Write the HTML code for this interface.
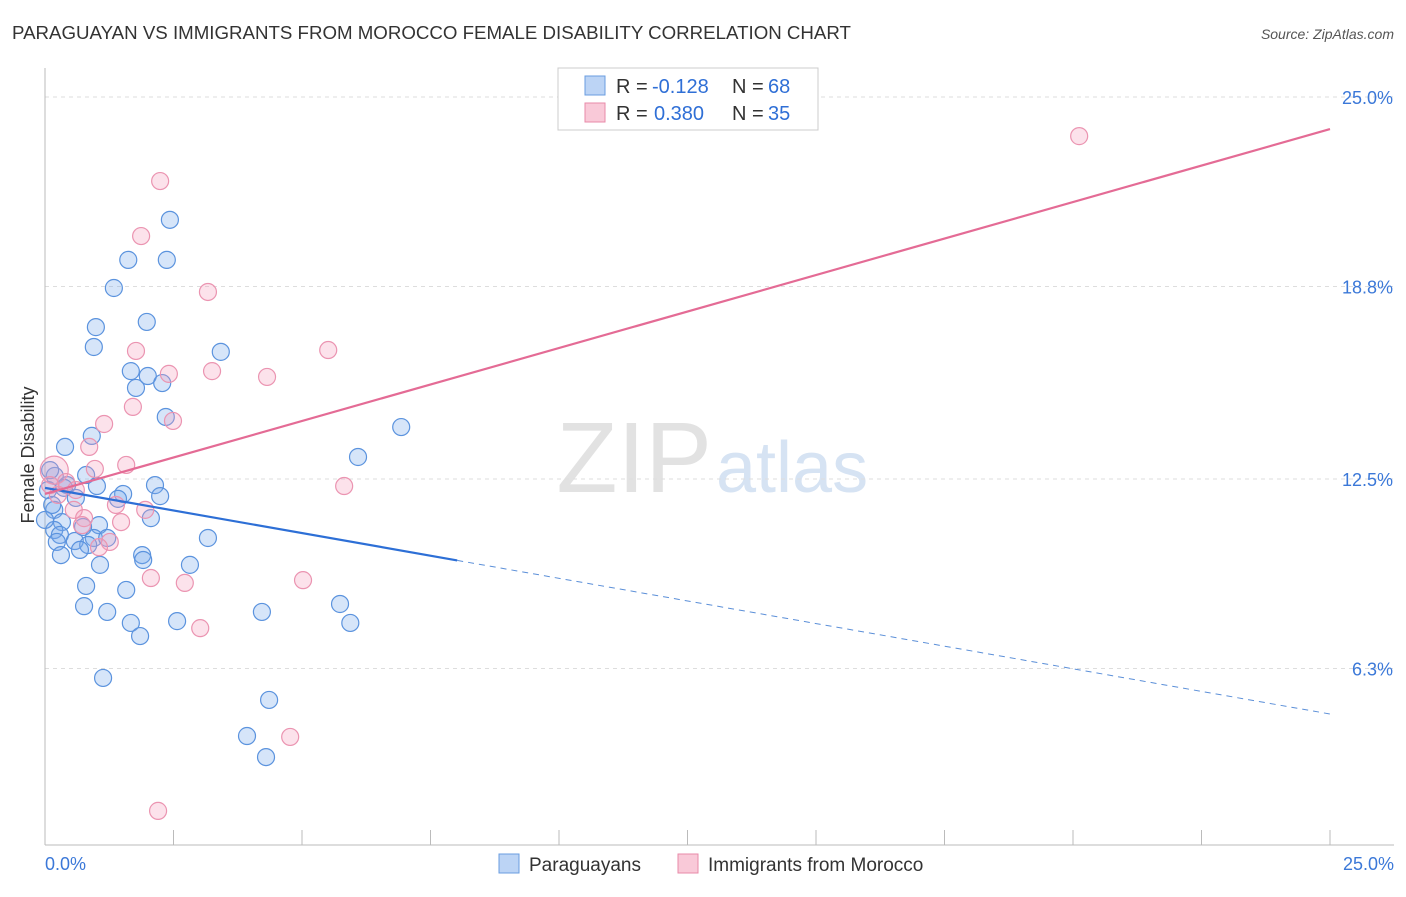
<!DOCTYPE html>
<html><head><meta charset="utf-8"><style>
body{margin:0;background:#fff;font-family:"Liberation Sans",sans-serif}
svg text{font-family:"Liberation Sans",sans-serif}
</style></head><body>
<svg id="c" width="1406" height="892">
<text x="12" y="39" font-size="18.7" fill="#333">PARAGUAYAN VS IMMIGRANTS FROM MOROCCO FEMALE DISABILITY CORRELATION CHART</text>
<text x="1394" y="39" font-size="14" fill="#555" text-anchor="end" font-style="italic">Source: ZipAtlas.com</text>
<text x="712" y="492" font-size="100" fill="#e2e2e2" text-anchor="end" font-family="Liberation Serif">ZIP</text>
<text x="716" y="492" font-size="72" fill="#d6e3f3">atlas</text>
<text transform="translate(34,455) rotate(-90)" font-size="18" fill="#333" text-anchor="middle">Female Disability</text>
<g id="grid"></g><g id="pts"></g><g id="lines"></g>
<rect x="558" y="68" width="260" height="62" fill="#fff" stroke="#ccc"/>
<rect x="585" y="76" width="20" height="19" fill="#bcd4f5" stroke="#6a9de0"/>
<rect x="585" y="103" width="20" height="19" fill="#f9c9d8" stroke="#e88aa8"/>
<g font-size="20">
<text x="616" y="93" fill="#333">R =</text><text x="652" y="93" fill="#2f6fd6">-0.128</text>
<text x="732" y="93" fill="#333">N =</text><text x="768" y="93" fill="#2f6fd6">68</text></g>
<g font-size="20">
<text x="616" y="120" fill="#333">R =</text><text x="654" y="120" fill="#2f6fd6">0.380</text>
<text x="732" y="120" fill="#333">N =</text><text x="768" y="120" fill="#2f6fd6">35</text></g>
<text x="45" y="870" font-size="18" fill="#3b78d8">0.0%</text>
<text x="1394" y="870" font-size="18" fill="#3b78d8" text-anchor="end">25.0%</text>
<rect x="499" y="854" width="20" height="19" fill="#bcd4f5" stroke="#6a9de0"/>
<text x="529" y="871" font-size="19" fill="#333">Paraguayans</text>
<rect x="678" y="854" width="20" height="19" fill="#f9c9d8" stroke="#e88aa8"/>
<text x="708" y="871" font-size="19" fill="#333">Immigrants from Morocco</text>
</svg>
<script>
const yTicks=[25.0,18.8,12.5,6.3];
const yTickLabels=["25.0%","18.8%","12.5%","6.3%"];
const blueX=[2.43,1.62,2.37,1.34,0.99,1.98,0.95,3.42,1.67,2.00,2.28,1.77,2.35,6.93,0.91,0.39,6.09,0.80,0.19,0.43,1.01,2.14,1.52,2.24,0.60,1.42,0.18,2.06,0.33,1.05,0.74,0.18,0.29,0.95,3.17,0.58,0.23,0.84,1.21,0.68,1.89,1.91,0.31,2.82,1.07,0.80,1.58,5.74,0.76,1.21,4.22,2.57,1.67,5.94,1.85,1.13,4.36,3.93,4.30,0.10,0.06,0.14,0.37,0.00];
const blueY=[20.98,19.67,19.67,18.75,17.47,17.64,16.82,16.66,16.03,15.87,15.64,15.48,14.53,14.20,13.91,13.55,13.22,12.63,12.60,12.30,12.27,12.30,12.01,11.94,11.88,11.85,11.49,11.22,11.09,10.99,10.93,10.83,10.67,10.57,10.57,10.47,10.44,10.34,10.57,10.18,10.01,9.85,10.01,9.69,9.69,9.00,8.87,8.41,8.34,8.15,8.15,7.85,7.79,7.79,7.36,5.99,5.27,4.09,3.40,12.79,12.14,11.65,12.21,11.16];
const pinkX=[20.12,2.24,1.87,3.17,1.77,5.51,2.41,3.25,4.32,1.71,2.49,1.15,0.86,1.58,0.97,0.18,0.41,0.25,0.60,1.38,1.95,0.56,0.76,1.48,0.72,1.26,1.05,2.06,2.72,5.02,5.82,3.02,4.77,2.20,0.10];
const pinkY=[23.72,22.25,20.45,18.62,16.69,16.72,15.94,16.03,15.84,14.86,14.40,14.30,13.55,12.96,12.83,12.79,12.40,11.98,12.14,11.65,11.49,11.49,11.22,11.09,10.99,10.44,10.27,9.26,9.10,9.19,12.27,7.62,4.06,1.64,12.30];
const blueLine=[12.21,4.81], blueSolidEnd=8.02, pinkLine=[12.01,23.95];
const X=v=>45+v/25*1285, Y=v=>861-v*30.56;
const NS="http://www.w3.org/2000/svg";
function mk(p,t,a){const e=document.createElementNS(NS,t);for(const k in a)e.setAttribute(k,a[k]);p.appendChild(e);return e;}
const g=document.getElementById('grid');
yTicks.forEach((t,i)=>{
 const l=mk(g,'line',{x1:45,x2:1394,y1:Y(t),y2:Y(t),stroke:'#ddd','stroke-dasharray':'4,4'});
 
 
 const tx=mk(g,'text',{x:1393,y:Y(t)+7,'font-size':18,fill:'#3b78d8','text-anchor':'end'});
 tx.textContent=yTickLabels[i];
 
 
});
const ax=mk(g,'line',{x1:45,x2:45,y1:68,y2:845,stroke:'#bbb'});


const bx=mk(g,'line',{x1:45,x2:1394,y1:845,y2:845,stroke:'#bbb'});


for(let i=0;i<=10;i++){const t=mk(g,'line',{x1:X(i*2.5),x2:X(i*2.5),y1:830,y2:845,stroke:'#bbb'});
 
 }
const p=document.getElementById('pts');
blueX.forEach((x,i)=>{const c=mk(p,'circle',{cx:X(x),cy:Y(blueY[i]),r:8.5,fill:'rgba(120,170,235,0.3)',stroke:'#5b93de','stroke-width':1.2});
 
 });
pinkX.forEach((x,i)=>{const c=mk(p,'circle',{cx:X(x),cy:Y(pinkY[i]),r:(i==15?14:8.5),fill:'rgba(245,160,190,0.3)',stroke:'#eb94b1','stroke-width':1.2});
 
 });
const L=document.getElementById('lines');
const by=x=>blueLine[0]+(blueLine[1]-blueLine[0])*x/25;
let a=mk(L,'line',{x1:X(0),y1:Y(by(0)),x2:X(blueSolidEnd),y2:Y(by(blueSolidEnd)),stroke:'#2d6fd6','stroke-width':2.2});


a=mk(L,'line',{x1:X(blueSolidEnd),y1:Y(by(blueSolidEnd)),x2:X(25),y2:Y(by(25)),stroke:'#5b8fd8','stroke-width':1,'stroke-dasharray':'6,5'});


a=mk(L,'line',{x1:X(0),y1:Y(pinkLine[0]),x2:X(25),y2:Y(pinkLine[1]),stroke:'#e46b95','stroke-width':2.2});


</script>
</body></html>
